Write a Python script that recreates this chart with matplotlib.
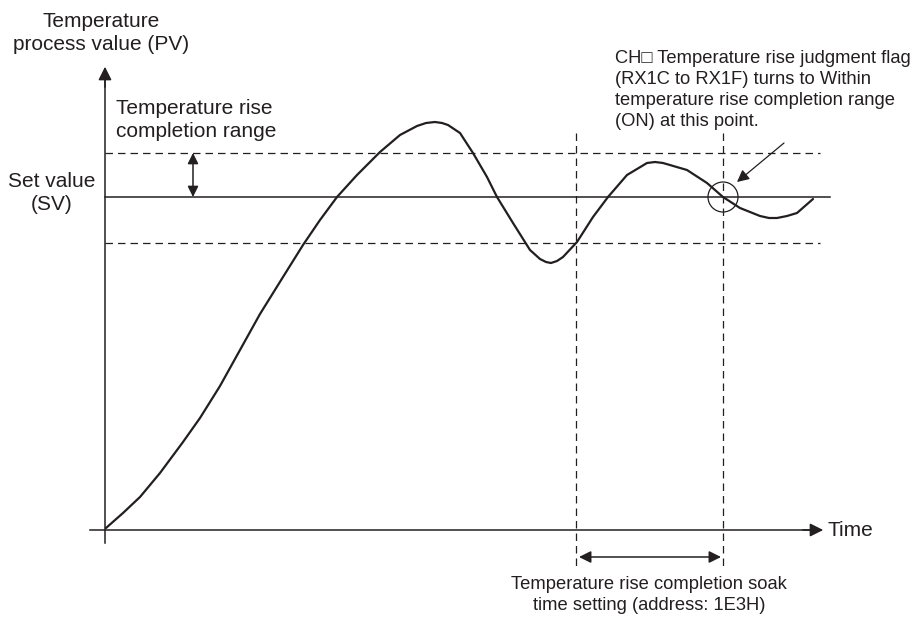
import numpy as np
import matplotlib
matplotlib.use("Agg")
import matplotlib.pyplot as plt
from matplotlib.patches import Circle

plt.rcParams['font.family'] = ['Liberation Sans', 'DejaVu Sans']

# picture is laid out in pixel units (x right, y down)
curve_x = [106, 123, 140, 160, 183, 200, 220, 240, 260, 283, 303, 320, 337, 357, 380, 400,
           417, 426, 435, 442, 448, 460, 473, 487, 497, 505, 513, 530, 540, 546, 551, 557,
           563, 577, 593, 608, 627, 647, 655, 663, 687, 707, 723, 740, 760, 769, 777, 787,
           797, 813]
curve_y = [528, 513, 497, 473, 442, 418, 386, 350, 314, 277, 245, 220, 197, 175, 152, 135,
           126, 123, 122, 123, 125, 133, 153, 177, 197, 210, 223, 250, 259, 262, 263, 261,
           257, 242, 217, 197, 175, 163, 162, 163, 170, 183, 197, 208, 216, 218, 218, 216,
           213, 199]

origin = (105, 530)
sv_y = 197
band_hi, band_lo = 153, 243
soak_start, soak_end = 576, 723

ink = '#231f20'
fs_big = 15
fs_small = 13.2

fig = plt.figure(figsize=(9.2, 6.21), dpi=100)
ax = fig.add_axes([0, 0, 1, 1])
ax.set_xlim(0, 920)
ax.set_ylim(621, 0)
ax.axis('off')

# axes with arrows
ax.plot([origin[0], origin[0]], [543, 80], color=ink, lw=1.1)
ax.annotate('', xy=(origin[0], 64), xytext=(origin[0], 90),
            arrowprops=dict(arrowstyle='-|>', color=ink, lw=1.1, mutation_scale=20))
ax.plot([90, 815], [origin[1], origin[1]], color=ink, lw=1.1)
ax.annotate('', xy=(826, origin[1]), xytext=(800, origin[1]),
            arrowprops=dict(arrowstyle='-|>', color=ink, lw=1.1, mutation_scale=20))

# set value and completion band
ax.plot([105, 830], [sv_y, sv_y], color=ink, lw=1.1)
ax.plot([105, 820], [band_hi, band_hi], color=ink, lw=0.9, dashes=(6, 4))
ax.plot([105, 820], [band_lo, band_lo], color=ink, lw=0.9, dashes=(6, 4))
ax.annotate('', xy=(193, band_hi), xytext=(193, sv_y),
            arrowprops=dict(arrowstyle='<|-|>', color=ink, lw=1.1, mutation_scale=16,
                            shrinkA=0, shrinkB=0))

# soak time markers
for xv in (soak_start, soak_end):
    ax.plot([xv, xv], [133, 566], color=ink, lw=0.9, dashes=(6, 4))
ax.annotate('', xy=(soak_start + 3, 557), xytext=(soak_end - 2, 557),
            arrowprops=dict(arrowstyle='<|-|>', color=ink, lw=1.1, mutation_scale=18,
                            shrinkA=0, shrinkB=0))

# process value curve
ax.plot(curve_x, curve_y, color=ink, lw=1.6, solid_joinstyle='round', solid_capstyle='round')

# point where flag turns on
ax.add_patch(Circle((soak_end, sv_y), 15, fill=False, ec=ink, lw=0.9))
ax.annotate('', xy=(737, 182), xytext=(784, 143),
            arrowprops=dict(arrowstyle='-|>', color=ink, lw=0.9, mutation_scale=18,
                            shrinkA=0, shrinkB=0))

# labels
ax.text(101, 33, 'Temperature\nprocess value (PV)', ha='center', va='center',
        fontsize=fs_big, color=ink, linespacing=1.3)
ax.text(116, 120, 'Temperature rise\ncompletion range', ha='left', va='center',
        fontsize=fs_big, color=ink, linespacing=1.3)
ax.text(52, 193, 'Set value\n(SV)', ha='center', va='center',
        fontsize=fs_big, color=ink, linespacing=1.3)
ax.text(828, 530, 'Time', ha='left', va='center', fontsize=fs_big, color=ink)
ax.text(615, 90, 'CH\u25a1 Temperature rise judgment flag\n(RX1C to RX1F) turns to Within\n'
        'temperature rise completion range\n(ON) at this point.',
        ha='left', va='center', fontsize=fs_small, color=ink, linespacing=1.33)
ax.text(649, 595, 'Temperature rise completion soak\ntime setting (address: 1E3H)',
        ha='center', va='center', fontsize=fs_small, color=ink, linespacing=1.33)

fig.savefig('out.png', dpi=100)
